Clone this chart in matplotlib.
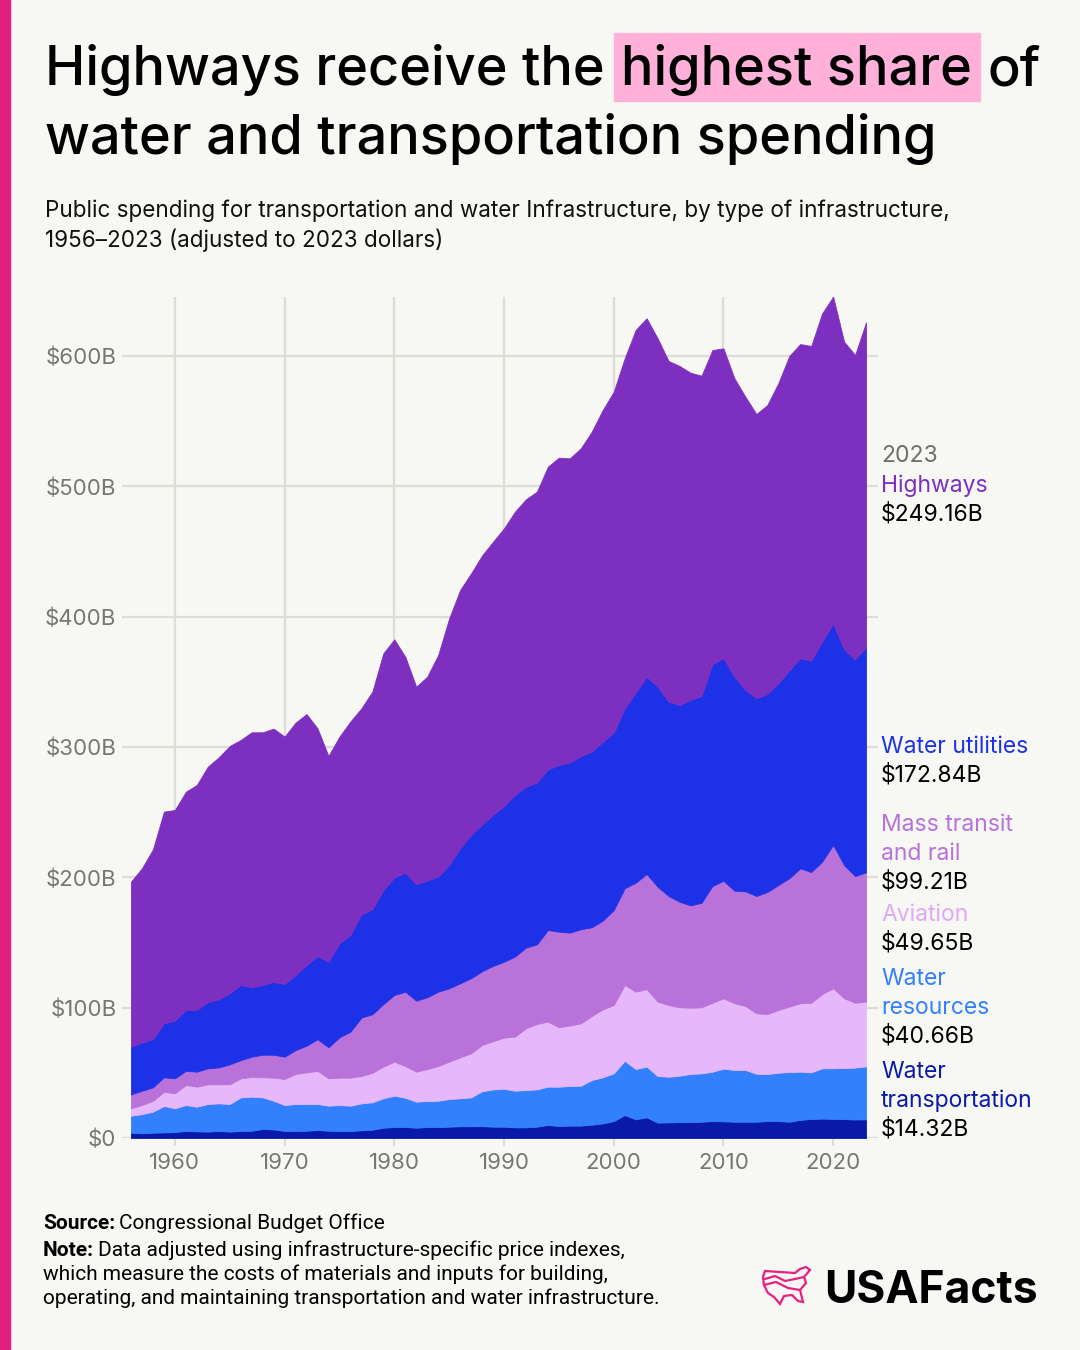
import matplotlib
matplotlib.use("Agg")
import matplotlib.pyplot as plt
from matplotlib.patches import Rectangle, Polygon
from matplotlib.ticker import FuncFormatter

# ---------------------------------------------------------------
#   DATA (billions of 2023 dollars)
# ---------------------------------------------------------------
years = list(range(1956, 2024))

water_transportation = [
    4.1, 3.6, 4.1, 4.3, 4.6, 5.4, 5.1, 4.9, 5.4, 4.9,
    5.4, 5.6, 6.9, 6.6, 5.4, 5.4, 5.6, 6.1, 5.6, 5.4,
    5.4, 5.9, 6.4, 7.9, 8.4, 8.4, 7.9, 8.4, 8.4, 8.7,
    9.0, 9.0, 9.1, 8.7, 8.7, 8.2, 8.2, 8.7, 10.0, 9.2,
    9.5, 9.5, 10.2, 11.2, 13.0, 17.6, 14.3, 15.9, 11.8, 12.0,
    12.3, 12.3, 12.5, 13.0, 12.8, 12.5, 12.5, 12.5, 13.0, 13.0,
    12.5, 13.9, 14.6, 14.9, 14.7, 14.5, 14.2, 14.32]

water_resources = [
    13.0, 14.8, 16.1, 20.3, 18.2, 19.9, 18.9, 21.2, 21.2, 21.2,
    25.8, 26.1, 24.3, 22.0, 19.9, 20.7, 20.5, 20.0, 19.2, 19.9,
    19.4, 20.7, 21.0, 22.6, 24.1, 22.5, 20.0, 20.0, 20.2, 21.2,
    21.5, 22.2, 26.8, 28.6, 29.1, 28.1, 28.6, 28.6, 29.4, 30.2,
    30.4, 30.6, 34.3, 35.4, 36.6, 41.7, 38.6, 38.9, 35.8, 35.0,
    35.5, 36.8, 37.1, 37.9, 40.4, 39.7, 39.7, 36.8, 36.1, 37.1,
    38.1, 37.0, 35.8, 38.6, 38.8, 39.2, 39.8, 40.66]

aviation = [
    5.7, 6.9, 8.4, 10.9, 11.5, 15.4, 15.4, 15.1, 14.6, 15.1,
    14.6, 15.1, 15.4, 17.7, 20.0, 23.0, 24.3, 25.5, 21.0, 21.0,
    21.5, 21.0, 22.7, 24.3, 26.1, 24.3, 23.0, 24.5, 26.6, 28.7,
    31.4, 33.8, 35.5, 37.0, 39.2, 41.5, 47.4, 50.2, 49.9, 45.6,
    46.4, 47.9, 49.1, 52.1, 52.4, 58.1, 59.4, 59.4, 57.1, 55.0,
    52.5, 50.9, 50.7, 52.9, 54.0, 51.2, 49.1, 46.4, 46.0, 48.1,
    50.2, 52.5, 53.4, 57.0, 61.4, 53.5, 49.8, 49.65]

mass_transit = [
    10.7, 11.0, 10.3, 11.1, 11.5, 10.9, 11.5, 12.3, 13.0, 15.3,
    14.0, 15.6, 17.3, 17.6, 17.1, 18.4, 20.5, 24.2, 23.8, 31.0,
    35.3, 44.8, 44.9, 48.0, 51.1, 57.1, 54.5, 55.1, 57.1, 56.3,
    56.8, 57.6, 56.6, 57.8, 58.3, 61.4, 61.9, 61.1, 70.3, 73.3,
    71.3, 72.2, 68.1, 68.1, 72.9, 74.2, 83.6, 88.4, 88.1, 83.7,
    81.0, 78.5, 80.2, 89.6, 90.2, 86.4, 88.0, 90.0, 93.7, 95.9,
    98.5, 103.5, 100.3, 101.6, 109.9, 102.3, 97.2, 99.21]

water_utilities = [
    36.6, 36.9, 37.1, 41.4, 44.3, 46.6, 47.3, 50.8, 52.2, 54.5,
    57.6, 53.3, 53.5, 55.8, 55.8, 57.6, 61.8, 63.8, 65.7, 72.1,
    74.2, 79.2, 80.5, 87.5, 90.1, 91.3, 89.3, 89.5, 88.2, 94.6,
    103.6, 109.9, 112.5, 115.9, 119.4, 124.0, 123.5, 124.1, 123.3, 127.9,
    130.4, 132.9, 134.7, 137.3, 136.1, 138.1, 145.8, 151.4, 153.5, 149.1,
    150.9, 157.6, 158.6, 170.3, 170.7, 164.2, 154.4, 151.7, 151.9, 154.8,
    159.3, 161.2, 162.2, 168.8, 170.1, 165.4, 166.2, 172.84]

highways = [
    126.6, 133.8, 145.5, 162.4, 161.6, 167.5, 172.7, 180.6, 185.7, 189.8,
    188.0, 195.6, 193.9, 194.4, 189.8, 193.6, 192.6, 174.7, 157.8, 158.6,
    163.8, 158.1, 167.0, 181.6, 182.8, 165.7, 151.6, 156.5, 170.1, 189.2,
    198.2, 200.7, 206.5, 209.5, 213.1, 217.4, 220.5, 223.2, 232.2, 235.8,
    233.5, 236.1, 245.6, 254.5, 261.6, 268.5, 278.3, 275.0, 267.3, 261.4,
    260.2, 251.1, 245.8, 240.9, 237.8, 228.9, 225.1, 218.1, 221.7, 230.2,
    241.4, 241.1, 241.4, 251.9, 250.6, 236.1, 233.6, 249.16]

# right hand labels: (lines of the name, 2023 value)
label_names = [["Highways"], ["Water utilities"], ["Mass transit", "and rail"],
               ["Aviation"], ["Water", "resources"], ["Water", "transportation"]]
label_values = ["$249.16B", "$172.84B", "$99.21B", "$49.65B", "$40.66B", "$14.32B"]

# ---------------------------------------------------------------
#   STYLE
# ---------------------------------------------------------------
BG = "#f7f7f3"
GRID = "#dddcd6"
TICK = "#767676"
FONT = ["Inter", "DejaVu Sans"]
NARROW = ["Liberation Sans Narrow", "Roboto", "DejaVu Sans"]

c_highways = "#7d2fbf"
c_utilities = "#1d32e6"
c_transit = "#b872d9"
c_aviation = "#e6b8fb"
c_resources = "#3380ff"
c_transport = "#0a1aa8"
label_colors = [c_highways, c_utilities, c_transit, "#e0a8f8", c_resources, c_transport]

W, H = 1080, 1350


def fx(x):
    return x / W


def fy(y):
    return 1 - y / H


fig = plt.figure(figsize=(W / 100, H / 100), dpi=100)
fig.patch.set_facecolor(BG)
rend = fig.canvas.get_renderer()

# magenta strip on the left
fig.add_artist(Rectangle((0, 0), fx(10), 1, transform=fig.transFigure,
                         color="#e01f7e", zorder=0))

# ---------------- title with highlighted words ----------------
TS = 39
TW = 500
t1 = fig.text(fx(45), fy(85), "Highways receive the", fontsize=TS, family=FONT,
              fontweight=TW, va="baseline", color="black")
bb = t1.get_window_extent(rend)
t2 = fig.text(fx(bb.x1 + 16), fy(85), "highest share", fontsize=TS, family=FONT,
              fontweight=TW, va="baseline", color="black", zorder=3)
bb2 = t2.get_window_extent(rend)
fig.add_artist(Rectangle((fx(bb2.x0 - 7), fy(101)), fx(bb2.x1 - bb2.x0 + 15), 68 / H,
                         transform=fig.transFigure, color="#ffb1d9", zorder=1))
fig.text(fx(bb2.x1 + 16), fy(85), "of", fontsize=TS, family=FONT, fontweight=TW,
         va="baseline", color="black")
fig.text(fx(45), fy(154), "water and transportation spending", fontsize=TS,
         family=FONT, fontweight=TW, va="baseline", color="black")

fig.text(fx(45), fy(211), "Public spending for transportation and water Infrastructure, by type of infrastructure,",
         fontsize=16.2, family=FONT, va="center", color="#111111")
fig.text(fx(45), fy(240), "1956\u20132023 (adjusted to 2023 dollars)",
         fontsize=16.2, family=FONT, va="center", color="#111111")

# ---------------- the stacked area chart ----------------
ax = fig.add_axes([fx(122), fy(1138), (878 - 122) / W, (1138 - 297) / H])
ax.set_facecolor(BG)
ax.stackplot(years, water_transportation, water_resources, aviation,
             mass_transit, water_utilities, highways,
             colors=[c_transport, c_resources, c_aviation, c_transit,
                     c_utilities, c_highways],
             linewidth=0.6, edgecolor="face")

ax.set_xlim(1955.18, 2024.09)
ax.set_ylim(0, 645.3)
ax.set_axisbelow(True)
ax.grid(True, color=GRID, linewidth=1.6)
for s in ax.spines.values():
    s.set_visible(False)

ax.set_xticks(range(1960, 2021, 10))
ax.set_yticks(range(0, 601, 100))
ax.yaxis.set_major_formatter(FuncFormatter(lambda v, p: "$0" if v == 0 else "$%dB" % v))
ax.tick_params(axis="x", length=6, width=1.6, color=GRID, labelsize=16,
               labelcolor=TICK, pad=5)
ax.tick_params(axis="y", length=0, labelsize=16, labelcolor=TICK, pad=4)
for lab in ax.get_xticklabels() + ax.get_yticklabels():
    lab.set_family(FONT)

# ---------------- end labels ----------------
LS = 16.5
fig.text(fx(881), fy(456), "2023", fontsize=LS, family=FONT, va="center", color="#6e6e6e")
label_tops = [486, 747, 825, 915, 979, 1072]
for top, names, val, col in zip(label_tops, label_names, label_values, label_colors):
    y = top
    for n in names:
        fig.text(fx(881), fy(y), n, fontsize=LS, family=FONT, va="center", color=col)
        y += 28.5
    fig.text(fx(881), fy(y), val, fontsize=LS, family=FONT, va="center", color="black")

# ---------------- footnotes ----------------
FS = 15


def bold_lead(x, y, lead, rest):
    a = fig.text(fx(x), fy(y), lead, fontsize=FS, family=NARROW, fontweight="bold",
                 va="baseline", color="black")
    b = a.get_window_extent(rend)
    fig.text(fx(b.x1 + 4), fy(y), rest, fontsize=FS, family=NARROW,
             va="baseline", color="black")


bold_lead(43, 1229, "Source:", "Congressional Budget Office")
bold_lead(43, 1256, "Note:", "Data adjusted using infrastructure-specific price indexes,")
fig.text(fx(43), fy(1280), "which measure the costs of materials and inputs for building,",
         fontsize=FS, family=NARROW, va="baseline", color="black")
fig.text(fx(43), fy(1304), "operating, and maintaining transportation and water infrastructure.",
         fontsize=FS, family=NARROW, va="baseline", color="black")

# ---------------- logo ----------------
fig.text(fx(824), fy(1303), "USAFacts", fontsize=32, family=FONT, fontweight="bold",
         va="baseline", color="black")
outline = [(765, 1271), (780, 1272), (795, 1273), (800, 1269), (806, 1267), (810, 1270),
           (804, 1277), (806, 1283), (800, 1290), (803, 1302), (798, 1301),
           (792, 1295), (784, 1296), (780, 1304), (774, 1297), (768, 1293),
           (764, 1285), (763, 1277)]
fig.add_artist(Polygon([(fx(a), fy(b)) for a, b in outline], closed=True, fill=False,
                       edgecolor="#e8217f", linewidth=1.6, transform=fig.transFigure))
for wave in ([(765, 1279), (775, 1276), (785, 1281), (795, 1279), (804, 1277)],
             [(764, 1285), (776, 1282), (788, 1288), (800, 1290)]):
    xs = [fx(a) for a, b in wave]
    ys = [fy(b) for a, b in wave]
    fig.add_artist(plt.Line2D(xs, ys, color="#e8217f", linewidth=1.6,
                              transform=fig.transFigure))

fig.savefig("out.png", dpi=100, facecolor=BG)
